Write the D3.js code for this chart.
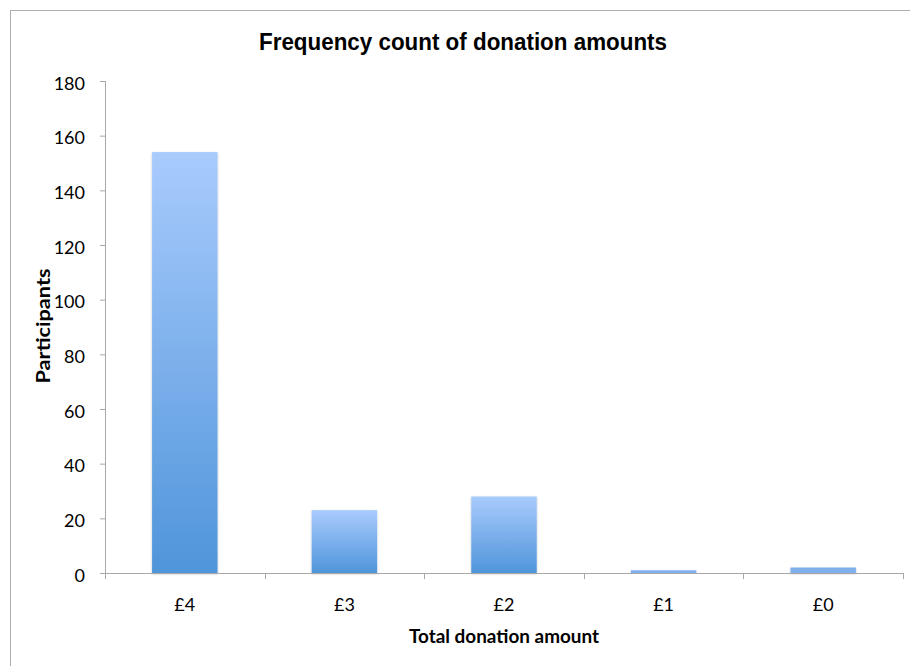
<!DOCTYPE html>
<html>
<head>
<meta charset="utf-8">
<script src="https://cdn.jsdelivr.net/npm/d3@7"></script>
<style>
  html, body { margin: 0; padding: 0; background: #fff; }
  svg { display: block; }
</style>
</head>
<body>
<svg id="chart" width="910" height="666"></svg>
<script>
// Donation amounts and number of participants giving each total
const categories = ["£4", "£3", "£2", "£1", "£0"];
const participants = [154, 23, 28, 1, 2];
const yTicks = [0, 20, 40, 60, 80, 100, 120, 140, 160, 180];

const titleText = "Frequency count of donation amounts";
const xTitle = "Total donation amount";
const yTitle = "Participants";

const svg = d3.select("#chart");
const W = 910, H = 666;
const plot = { left: 105, right: 903, top: 81, bottom: 573 };

// Outer chart frame
svg.append("rect")
  .attr("x", 10.5).attr("y", 10.5)
  .attr("width", W + 10).attr("height", H + 10)
  .attr("fill", "#fff").attr("stroke", "#adadad").attr("stroke-width", 1);

const x = d3.scaleBand()
  .domain(categories)
  .range([plot.left, plot.right])
  .paddingInner(0.59).paddingOuter(0.295);

const y = d3.scaleLinear()
  .domain([0, 180])
  .range([plot.bottom, plot.top]);

// Vertical gradient used for the bars
const defs = svg.append("defs");
const grad = defs.append("linearGradient")
  .attr("id", "barGrad")
  .attr("x1", 0).attr("x2", 0).attr("y1", 0).attr("y2", 1);
grad.append("stop").attr("offset", "0%").attr("stop-color", "#a9cbfd");
grad.append("stop").attr("offset", "100%").attr("stop-color", "#4f95da");

const shadow = defs.append("filter").attr("id", "shadow")
  .attr("x", "-10%").attr("y", "-10%").attr("width", "130%").attr("height", "130%");
shadow.append("feDropShadow")
  .attr("dx", 0).attr("dy", 1).attr("stdDeviation", 1.2)
  .attr("flood-color", "#000").attr("flood-opacity", 0.25);

// Bars
svg.append("g").selectAll("rect")
  .data(categories.map((c, i) => ({ c, v: participants[i] })))
  .join("rect")
  .attr("x", d => x(d.c))
  .attr("width", x.bandwidth())
  .attr("y", d => y(d.v))
  .attr("height", d => y(0) - y(d.v))
  .attr("fill", d => d.v > 10 ? "url(#barGrad)" : "#7fb0ec")
  .attr("filter", "url(#shadow)");

// Y axis
const yAxis = svg.append("g")
  .attr("transform", `translate(${plot.left},0)`)
  .call(d3.axisLeft(y).tickValues(yTicks).tickSize(5).tickSizeOuter(0).tickPadding(15));
yAxis.select(".domain").attr("stroke", "#a8a8a8").attr("d", `M0.5,${plot.top}V${plot.bottom}`);
yAxis.selectAll(".tick line").attr("stroke", "#a8a8a8");
yAxis.selectAll(".tick text")
  .attr("fill", "#000")
  .attr("dy", "0.45em")
  .style("font-family", "Lato, 'Open Sans', sans-serif")
  .style("font-size", "18px");

// X axis with boundary ticks between categories
const xAxis = svg.append("g").attr("transform", `translate(0,${plot.bottom})`);
xAxis.append("line")
  .attr("x1", plot.left).attr("x2", plot.right)
  .attr("y1", 0.5).attr("y2", 0.5)
  .attr("stroke", "#a8a8a8");
const step = x.step();
const bounds = d3.range(categories.length + 1).map(i => x(categories[0]) - x.paddingOuter() * step + i * step);
xAxis.selectAll("line.bt")
  .data(bounds)
  .join("line").attr("class", "bt")
  .attr("x1", d => Math.round(d) + 0.5).attr("x2", d => Math.round(d) + 0.5)
  .attr("y1", 0).attr("y2", 6)
  .attr("stroke", "#a8a8a8");
xAxis.selectAll("text")
  .data(categories)
  .join("text")
  .attr("x", d => x(d) + x.bandwidth() / 2)
  .attr("y", 38)
  .attr("text-anchor", "middle")
  .attr("fill", "#000")
  .style("font-family", "Lato, 'Open Sans', sans-serif")
  .style("font-size", "18px")
  .text(d => d);

// Titles
svg.append("text")
  .attr("x", 463).attr("y", 50)
  .attr("text-anchor", "middle")
  .attr("textLength", 408)
  .attr("lengthAdjust", "spacingAndGlyphs")
  .style("font-family", "'Liberation Sans', Arial, sans-serif")
  .style("font-weight", "bold")
  .style("font-size", "23px")
  .text(titleText);

svg.append("text")
  .attr("x", (plot.left + plot.right) / 2).attr("y", 643)
  .attr("text-anchor", "middle")
  .attr("textLength", 190)
  .attr("lengthAdjust", "spacingAndGlyphs")
  .style("font-family", "Lato, 'Open Sans', sans-serif")
  .style("font-weight", "bold")
  .style("font-size", "19px")
  .text(xTitle);

svg.append("text")
  .attr("transform", `translate(50,${(plot.top + plot.bottom) / 2 - 1}) rotate(-90)`)
  .attr("text-anchor", "middle")
  .attr("textLength", 115)
  .attr("lengthAdjust", "spacingAndGlyphs")
  .style("font-family", "Lato, 'Open Sans', sans-serif")
  .style("font-weight", "bold")
  .style("font-size", "19px")
  .text(yTitle);
</script>
</body>
</html>
